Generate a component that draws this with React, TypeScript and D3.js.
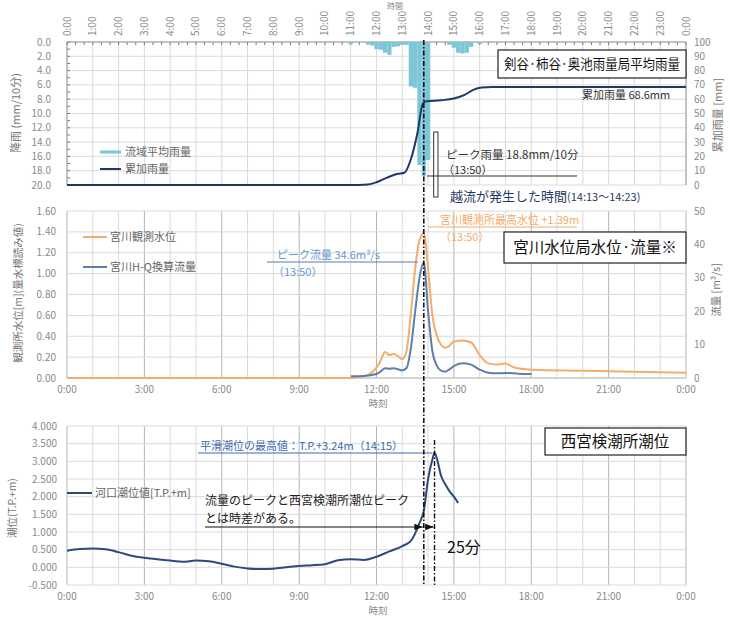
import React from 'react';
import * as d3 from 'd3';

const FONT = '"Noto Sans CJK JP", "Noto Sans", sans-serif';

// top axis (hourly) and bottom axis (3-hourly) labels
const topTickHours = d3.range(0, 25);
const topTickLabels = topTickHours.map((h) => `${h % 24}:00`);
const bottomTickHours = [0, 3, 6, 9, 12, 15, 18, 21, 24];
const bottomTickLabels = bottomTickHours.map((h) => `${h % 24}:00`);

const rainTicks = [0, 2, 4, 6, 8, 10, 12, 14, 16, 18, 20];
const cumTicks = [0, 10, 20, 30, 40, 50, 60, 70, 80, 90, 100];
const levelTicks = [0, 0.2, 0.4, 0.6, 0.8, 1.0, 1.2, 1.4, 1.6];
const flowTicks = [0, 10, 20, 30, 40, 50];
const tideTicks = [-0.5, 0, 0.5, 1.0, 1.5, 2.0, 2.5, 3.0, 3.5, 4.0];

// 10-minute basin average rainfall (mm/10min)
const rainTimes = ['11:00', '11:40', '11:50', '12:00', '12:10', '12:20', '12:30', '12:40', '12:50', '13:00', '13:10', '13:20', '13:30', '13:40', '13:50', '14:00', '14:50', '15:00', '15:10', '15:20', '15:30', '15:40', '16:00'];
const rainValues = [0.3, 0.3, 0.5, 1.0, 1.1, 1.5, 1.8, 0.7, 0.6, 0.4, 0.4, 6.2, 6.4, 17.2, 18.8, 16.5, 0.4, 0.8, 1.5, 1.6, 1.5, 0.7, 0.3];

// cumulative rainfall (mm)
const cumTimes = ['0:00', '11:00', '11:40', '12:00', '12:25', '12:50', '13:05', '13:20', '13:35', '13:48', '13:56', '14:30', '15:00', '15:25', '15:45', '16:05', '16:30', '24:00'];
const cumValues = [0, 0, 0.4, 1.9, 5.2, 7.8, 8.6, 18, 36, 57, 58.5, 59.2, 60.5, 63, 66.5, 68.2, 68.6, 68.6];

// Miyagawa water level (m)
const levelTimes = ['0:00', '11:00', '11:20', '11:40', '12:00', '12:10', '12:20', '12:30', '12:40', '12:50', '13:00', '13:10', '13:20', '13:30', '13:40', '13:50', '14:00', '14:10', '14:20', '14:30', '14:40', '14:50', '15:00', '15:20', '15:40', '16:00', '16:20', '16:40', '17:00', '17:20', '18:00', '20:00', '22:00', '24:00'];
const levelValues = [0.0, 0.0, 0.01, 0.03, 0.1, 0.17, 0.25, 0.22, 0.23, 0.21, 0.18, 0.26, 0.62, 1.05, 1.32, 1.39, 1.05, 0.6, 0.41, 0.32, 0.29, 0.31, 0.35, 0.36, 0.34, 0.22, 0.14, 0.13, 0.14, 0.1, 0.08, 0.07, 0.06, 0.05];

// Miyagawa H-Q converted discharge (m3/s)
const flowTimes = ['11:00', '11:30', '12:00', '12:10', '12:20', '12:30', '12:40', '12:50', '13:00', '13:10', '13:20', '13:30', '13:40', '13:50', '14:00', '14:10', '14:20', '14:30', '14:40', '14:50', '15:00', '15:20', '15:40', '16:00', '16:20', '16:40', '17:00', '17:30', '18:00'];
const flowValues = [0.5, 0.6, 1.2, 2.0, 2.9, 2.8, 2.9, 2.6, 2.3, 3.0, 9.0, 20.0, 30.0, 34.6, 20.0, 8.0, 3.8, 2.2, 1.9, 2.6, 3.6, 4.4, 4.0, 2.5, 1.6, 1.4, 1.5, 1.3, 1.2];

// Nishinomiya tide level (T.P.+m)
const tideTimes = ['0:00', '0:30', '1:00', '1:30', '2:00', '2:30', '3:00', '3:30', '4:00', '4:30', '5:00', '5:30', '6:00', '6:30', '7:00', '7:30', '8:00', '8:30', '9:00', '9:30', '10:00', '10:30', '11:00', '11:30', '12:00', '12:30', '13:00', '13:20', '13:40', '13:50', '14:00', '14:10', '14:15', '14:20', '14:30', '14:40', '14:50', '15:00', '15:10'];
const tideValues = [0.47, 0.52, 0.53, 0.51, 0.43, 0.33, 0.27, 0.23, 0.19, 0.16, 0.19, 0.17, 0.1, 0.02, -0.03, -0.05, -0.04, 0.0, 0.04, 0.06, 0.09, 0.2, 0.23, 0.21, 0.3, 0.45, 0.6, 0.75, 1.25, 1.6, 2.5, 3.05, 3.24, 3.1, 2.6, 2.35, 2.15, 2.0, 1.82];

const toHour = (s: string) => {
  const [h, m] = s.split(':').map(Number);
  return h + m / 60;
};

const x = d3.scaleLinear().domain([0, 24]).range([67, 686]);
const yRain = d3.scaleLinear().domain([0, 20]).range([42, 185]);
const yCum = d3.scaleLinear().domain([0, 100]).range([185, 42]);
const yLevel = d3.scaleLinear().domain([0, 1.6]).range([378, 211]);
const yFlow = d3.scaleLinear().domain([0, 50]).range([378, 211]);
const yTide = d3.scaleLinear().domain([-0.5, 4]).range([585, 426]);

const makeLine = (y: d3.ScaleLinear<number, number>) =>
  d3
    .line<[number, number]>()
    .x((d) => x(d[0]))
    .y((d) => y(d[1]))
    .curve(d3.curveMonotoneX);

const pairs = (times: string[], vals: number[]): [number, number][] => times.map((t, i) => [toHour(t), vals[i]]);

const GRID = '#dadada';
const GRID_DARK = '#b4b4b4';
const TICK = '#8a8a8a';

const VGrid: React.FC<{ top: number; bottom: number; heavy3?: boolean }> = ({ top, bottom, heavy3 }) => (
  <g>
    {d3.range(0, 25).map((h) => (
      <line key={h} x1={x(h)} x2={x(h)} y1={top} y2={bottom} stroke={heavy3 && h % 3 === 0 ? GRID_DARK : GRID} strokeWidth={1} />
    ))}
  </g>
);

const App: React.FC = () => {
  const barW = x(10 / 60) - x(0);
  const peak = toHour('13:50');
  const tidePeak = toHour('14:15');
  const ovStart = toHour('14:13');
  const ovEnd = toHour('14:23');

  return (
    <svg width={730} height={621} style={{ position: 'absolute', left: 0, top: 0, background: '#fff' }} fontFamily={FONT}>
      <defs>
        <marker id="arr" viewBox="0 0 10 10" refX="10" refY="5" markerWidth="7" markerHeight="7" orient="auto">
          <path d="M0,1 L10,5 L0,9 Z" fill="#111" />
        </marker>
      </defs>

      {/* ---------- panel 1: rainfall ---------- */}
      <text x={395} y={9} fontSize={8} fill={TICK} textAnchor="middle">時間</text>
      {topTickHours.map((h, i) => (
        <text key={h} transform={`translate(${x(h)},36) rotate(-90)`} fontSize={10} fill={TICK} dy="0.35em">
          {topTickLabels[i]}
        </text>
      ))}
      <VGrid top={42} bottom={185} />
      {rainTicks.map((v) => (
        <line key={v} x1={67} x2={686} y1={yRain(v)} y2={yRain(v)} stroke={GRID} />
      ))}
      {d3.range(0, 24 * 3 + 1).map((i) => (
        <line key={i} x1={x(i / 3)} x2={x(i / 3)} y1={42} y2={45} stroke="#777" />
      ))}
      {d3.range(0, 21).map((i) => (
        <line key={i} x1={67} x2={70} y1={yRain(i)} y2={yRain(i)} stroke="#777" />
      ))}
      <line x1={67} x2={686} y1={42} y2={42} stroke="#999" />
      <line x1={67} x2={67} y1={42} y2={185} stroke="#999" />
      <line x1={686} x2={686} y1={42} y2={185} stroke="#999" />
      {rainTicks.map((v) => (
        <text key={v} x={51} y={yRain(v)} fontSize={10} fill={TICK} textAnchor="end" dy="0.35em">
          {v.toFixed(1)}
        </text>
      ))}
      {cumTicks.map((v) => (
        <text key={v} x={694} y={yCum(v)} fontSize={10} fill={TICK} dy="0.35em">
          {v}
        </text>
      ))}
      <text transform="translate(20,113) rotate(-90)" fontSize={11} fill="#777" textAnchor="middle">降雨 (mm/10分)</text>
      <text transform="translate(722,115) rotate(-90)" fontSize={11} fill="#777" textAnchor="middle">累加雨量 [mm]</text>

      {rainTimes.map((t, i) => (
        <rect key={t} x={x(toHour(t)) - barW / 2} y={yRain(0)} width={barW} height={yRain(rainValues[i]) - yRain(0)} fill="#7cc6d8" />
      ))}
      <path d={makeLine(yCum)(pairs(cumTimes, cumValues)) || ''} fill="none" stroke="#1f3864" strokeWidth={2} />

      <line x1={100} x2={121} y1={152} y2={152} stroke="#7cc6d8" strokeWidth={3} />
      <text x={125} y={152} fontSize={11} fill="#666" dy="0.35em">流域平均雨量</text>
      <line x1={100} x2={121} y1={169} y2={169} stroke="#1f3864" strokeWidth={2} />
      <text x={125} y={169} fontSize={11} fill="#666" dy="0.35em">累加雨量</text>

      <rect x={498} y={50} width={188} height={28} fill="#fff" stroke="#222" strokeWidth={1.2} />
      <text x={592} y={64} fontSize={13.5} fill="#111" textAnchor="middle" dy="0.35em" textLength={176} lengthAdjust="spacingAndGlyphs">
        剣谷·柿谷·奥池雨量局平均雨量
      </text>
      <text x={582} y={95} fontSize={11} fill="#333" dy="0.35em">累加雨量 68.6mm</text>

      <rect x={x(ovStart)} y={132} width={x(ovEnd) - x(ovStart)} height={65} fill="#fff" stroke="#333" strokeWidth={1} />
      <line x1={427} x2={577} y1={176} y2={176} stroke="#333" strokeWidth={1.2} />
      <text x={446} y={155} fontSize={11.5} fill="#333" dy="0.35em">ピーク雨量 18.8mm/10分</text>
      <text x={443} y={170} fontSize={11} fill="#333" dy="0.35em">（13:50）</text>
      <text x={450} y={196} fontSize={13} fill="#1f3864" dy="0.35em">
        越流が発生した時間<tspan fontSize={11}>(14:13～14:23)</tspan>
      </text>

      {/* ---------- panel 2: water level & discharge ---------- */}
      <VGrid top={211} bottom={378} heavy3 />
      {levelTicks.map((v) => (
        <line key={v} x1={67} x2={686} y1={yLevel(v)} y2={yLevel(v)} stroke={GRID} />
      ))}
      <line x1={67} x2={686} y1={378} y2={378} stroke="#bbb" />
      {levelTicks.map((v) => (
        <text key={v} x={56} y={yLevel(v)} fontSize={10} fill={TICK} textAnchor="end" dy="0.35em">
          {v.toFixed(2)}
        </text>
      ))}
      {flowTicks.map((v) => (
        <text key={v} x={694} y={yFlow(v)} fontSize={10} fill={TICK} dy="0.35em">
          {v}
        </text>
      ))}
      {bottomTickHours.map((h, i) => (
        <text key={h} x={x(h)} y={389} fontSize={10} fill={TICK} textAnchor="middle" dy="0.35em">
          {bottomTickLabels[i]}
        </text>
      ))}
      <text x={378} y={404} fontSize={9.5} fill={TICK} textAnchor="middle" dy="0.35em">時刻</text>
      <text transform="translate(22,293) rotate(-90)" fontSize={10.5} fill="#777" textAnchor="middle">観測所水位[m](量水標読み値)</text>
      <text transform="translate(720,290) rotate(-90)" fontSize={10.5} fill="#777" textAnchor="middle">流量 [m³/s]</text>

      <path d={makeLine(yLevel)(pairs(levelTimes, levelValues)) || ''} fill="none" stroke="#f5ac6b" strokeWidth={2} />
      <path d={makeLine(yFlow)(pairs(flowTimes, flowValues)) || ''} fill="none" stroke="#5b7fa8" strokeWidth={2} />

      <line x1={83} x2={107} y1={237} y2={237} stroke="#f5ac6b" strokeWidth={2} />
      <text x={110} y={237} fontSize={11} fill="#666" dy="0.35em">宮川観測水位</text>
      <line x1={83} x2={107} y1={267} y2={267} stroke="#5b7fa8" strokeWidth={2} />
      <text x={110} y={267} fontSize={11} fill="#666" dy="0.35em">宮川H-Q換算流量</text>

      <text x={277} y={255} fontSize={11} fill="#6a98d0" dy="0.35em">ピーク流量 34.6m³/s</text>
      <line x1={267} x2={x(peak) - 6} y1={262} y2={262} stroke="#5b7fa8" strokeWidth={1.2} />
      <text x={273} y={272} fontSize={11} fill="#6a98d0" dy="0.35em">（13:50）</text>

      <text x={440} y={220} fontSize={11} fill="#f5ac6b" dy="0.35em">宮川観測所最高水位 +1.39m</text>
      <line x1={428} x2={577} y1={227} y2={227} stroke="#f5ac6b" strokeWidth={1.2} />
      <text x={440} y={237} fontSize={11} fill="#f5ac6b" dy="0.35em">（13:50）</text>

      <rect x={504} y={232} width={182} height={31} fill="#fff" stroke="#222" strokeWidth={1.2} />
      <text x={595} y={248} fontSize={15.5} fill="#111" textAnchor="middle" dy="0.35em">宮川水位局水位·流量※</text>

      {/* ---------- panel 3: tide level ---------- */}
      <VGrid top={426} bottom={585} heavy3 />
      {tideTicks.map((v) => (
        <line key={v} x1={67} x2={686} y1={yTide(v)} y2={yTide(v)} stroke={GRID} />
      ))}
      {tideTicks.map((v) => (
        <text key={v} x={57} y={yTide(v)} fontSize={10} fill={TICK} textAnchor="end" dy="0.35em">
          {v.toFixed(3)}
        </text>
      ))}
      {bottomTickHours.map((h, i) => (
        <text key={h} x={x(h)} y={596} fontSize={10} fill={TICK} textAnchor="middle" dy="0.35em">
          {bottomTickLabels[i]}
        </text>
      ))}
      <text x={378} y={611} fontSize={9.5} fill={TICK} textAnchor="middle" dy="0.35em">時刻</text>
      <text transform="translate(16,508) rotate(-90)" fontSize={10.5} fill="#777" textAnchor="middle">潮位(T.P.+m)</text>

      <path d={makeLine(yTide)(pairs(tideTimes, tideValues)) || ''} fill="none" stroke="#2e4a7d" strokeWidth={2} />

      <line x1={67} x2={92} y1={493} y2={493} stroke="#2e4a7d" strokeWidth={2} />
      <text x={95} y={493} fontSize={11} fill="#666" dy="0.35em">河口潮位値[T.P.+m]</text>

      <rect x={545} y={428} width={141} height={27} fill="#fff" stroke="#222" strokeWidth={1.2} />
      <text x={615} y={442} fontSize={15.5} fill="#111" textAnchor="middle" dy="0.35em">西宮検潮所潮位</text>

      <text x={200} y={446} fontSize={11} fill="#3d6bb0" dy="0.35em">平滑潮位の最高値：T.P.+3.24m（14:15）</text>
      <line x1={198} x2={x(tidePeak) - 2} y1={453} y2={453} stroke="#3d6bb0" strokeWidth={1.2} />

      <text x={205} y={501} fontSize={12} fill="#222" dy="0.35em">流量のピークと西宮検潮所潮位ピーク</text>
      <text x={205} y={519} fontSize={12} fill="#222" dy="0.35em">とは時差がある。</text>
      <line x1={205} x2={x(peak) - 1} y1={527} y2={527} stroke="#111" strokeWidth={1.2} markerEnd="url(#arr)" />
      <line x1={x(peak) + 1} x2={x(tidePeak) - 1} y1={527} y2={527} stroke="#111" strokeWidth={1.2} markerEnd="url(#arr)" />
      <text x={447} y={547} fontSize={16} fill="#111" dy="0.35em">25分</text>

      {/* dash-dot reference lines */}
      <line x1={x(peak)} x2={x(peak)} y1={40} y2={585} stroke="#111" strokeWidth={1.6} strokeDasharray="5,2,1.5,2" />
      <line x1={x(tidePeak)} x2={x(tidePeak)} y1={440} y2={585} stroke="#111" strokeWidth={1.4} strokeDasharray="5,2,1.5,2" />
    </svg>
  );
};

export default App;
